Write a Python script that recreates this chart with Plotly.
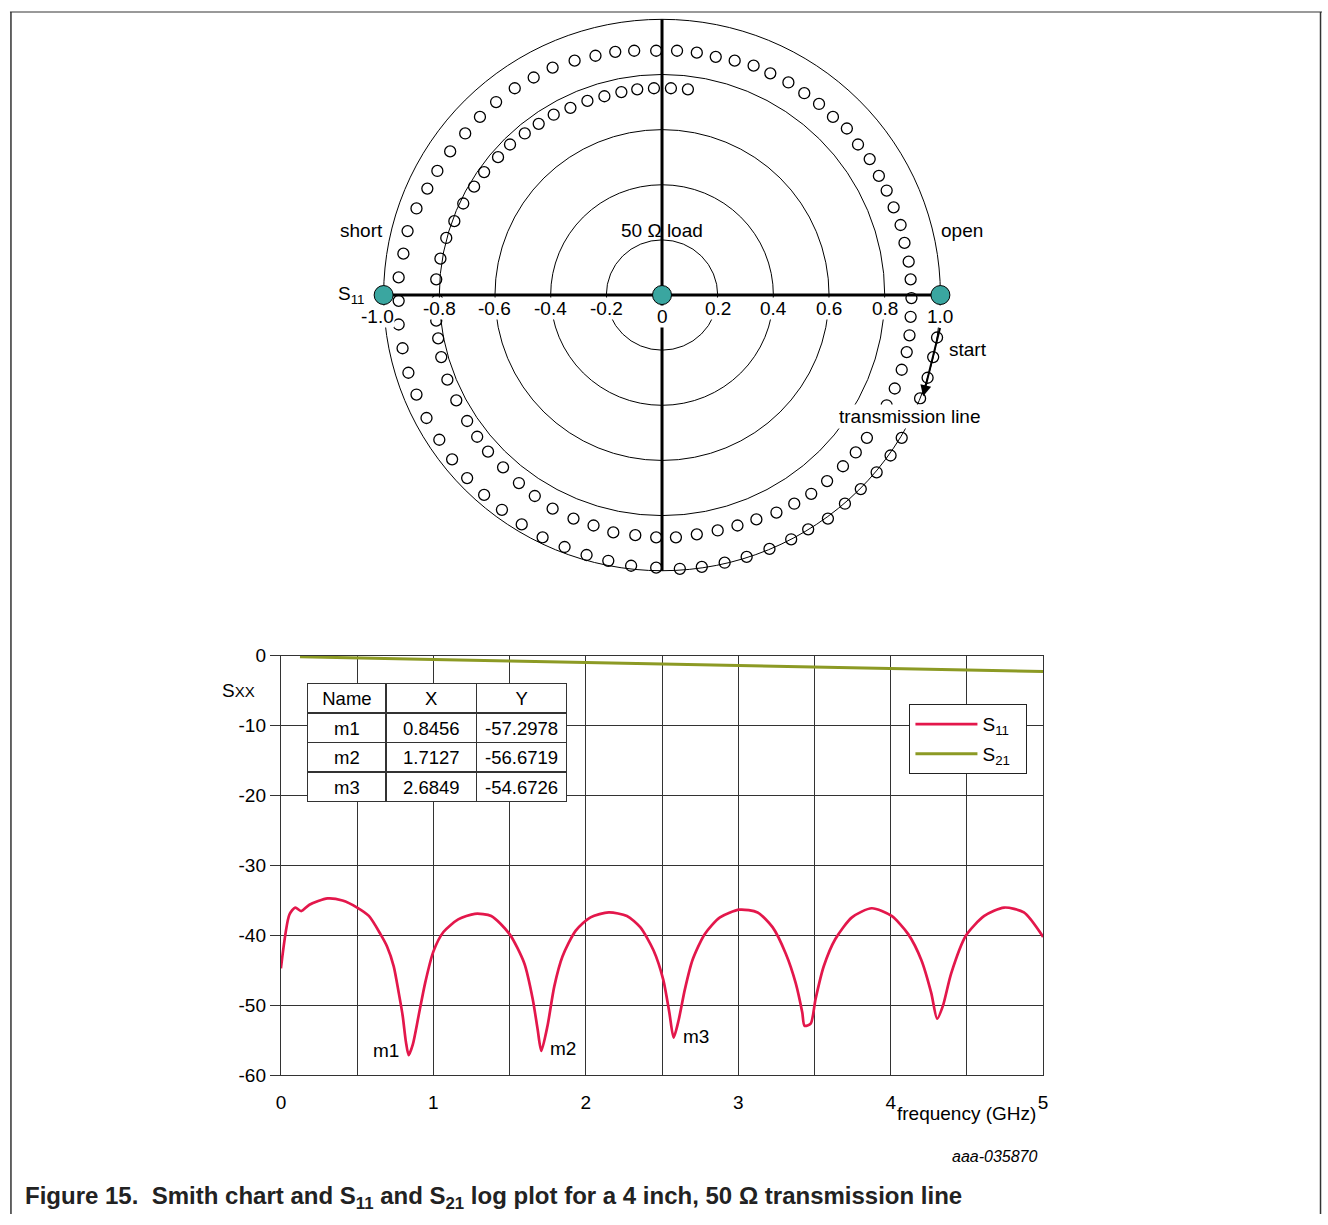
import plotly.graph_objects as go

# ---------------- Smith chart data (S11 reflection coefficient) ----------------
s11_re = [1.000, 0.997, 0.988, 0.974, 0.954, 0.927, 0.895, 0.861, 0.821, 0.771,
          0.714, 0.657, 0.596, 0.525, 0.464, 0.386, 0.304, 0.225, 0.143, 0.064,
          -0.021, -0.111, -0.193, -0.271, -0.350, -0.429, -0.504, -0.575, -0.639, -0.700,
          -0.754, -0.800, -0.846, -0.882, -0.911, -0.932, -0.946, -0.946, -0.946, -0.929,
          -0.914, -0.882, -0.843, -0.807, -0.761, -0.707, -0.654, -0.596, -0.529, -0.461,
          -0.393, -0.314, -0.239, -0.168, -0.100, -0.021, 0.054, 0.125, 0.193, 0.261,
          0.329, 0.389, 0.454, 0.511, 0.564, 0.614, 0.664, 0.704, 0.746, 0.779,
          0.807, 0.832, 0.857, 0.871, 0.886, 0.893, 0.896, 0.893, 0.889, 0.879,
          0.861, 0.836, 0.807, 0.771, 0.736, 0.696, 0.650, 0.593, 0.536, 0.475,
          0.411, 0.339, 0.271, 0.200, 0.125, 0.050, -0.021, -0.096, -0.175, -0.246,
          -0.318, -0.393, -0.457, -0.514, -0.571, -0.625, -0.664, -0.700, -0.739, -0.771,
          -0.793, -0.804, -0.811, -0.807, -0.811, -0.796, -0.775, -0.746, -0.714, -0.675,
          -0.639, -0.589, -0.546, -0.493, -0.443, -0.389, -0.329, -0.268, -0.207, -0.146,
          -0.089, -0.029, 0.032, 0.093]
s11_im = [0.000, -0.075, -0.154, -0.225, -0.300, -0.375, -0.446, -0.518, -0.582, -0.643,
          -0.704, -0.757, -0.811, -0.850, -0.886, -0.921, -0.950, -0.971, -0.986, -0.993,
          -0.989, -0.982, -0.964, -0.943, -0.914, -0.879, -0.832, -0.779, -0.725, -0.664,
          -0.596, -0.525, -0.446, -0.361, -0.282, -0.193, -0.107, -0.021, 0.064, 0.150,
          0.232, 0.314, 0.386, 0.450, 0.521, 0.586, 0.646, 0.700, 0.750, 0.789,
          0.825, 0.850, 0.868, 0.882, 0.886, 0.886, 0.886, 0.879, 0.864, 0.850,
          0.832, 0.804, 0.771, 0.732, 0.693, 0.646, 0.604, 0.546, 0.493, 0.432,
          0.379, 0.318, 0.254, 0.189, 0.121, 0.057, -0.011, -0.079, -0.146, -0.207,
          -0.271, -0.339, -0.400, -0.457, -0.518, -0.571, -0.621, -0.675, -0.721, -0.757,
          -0.789, -0.814, -0.836, -0.854, -0.868, -0.879, -0.879, -0.871, -0.861, -0.836,
          -0.811, -0.775, -0.729, -0.682, -0.625, -0.568, -0.514, -0.457, -0.382, -0.307,
          -0.225, -0.157, -0.093, -0.018, 0.057, 0.132, 0.207, 0.268, 0.332, 0.393,
          0.446, 0.500, 0.546, 0.586, 0.621, 0.654, 0.679, 0.704, 0.721, 0.736,
          0.746, 0.750, 0.750, 0.746]

smith_rings = [0.2, 0.4, 0.6, 0.8, 1.0]
smith_tick_vals = [-1.0, -0.8, -0.6, -0.4, -0.2, 0.0, 0.2, 0.4, 0.6, 0.8, 1.0]
smith_tick_text = ["-1.0", "-0.8", "-0.6", "-0.4", "-0.2", "0", "0.2", "0.4", "0.6", "0.8", "1.0"]
ref_re = [-1.0, 0.0, 1.0]   # short, 50 ohm load, open
ref_im = [0.0, 0.0, 0.0]

# ---------------- Log plot data ----------------
freq_s11 = [0.0, 0.056, 0.094, 0.133, 0.187, 0.306, 0.404, 0.5, 0.577, 0.653,
            0.697, 0.740, 0.773, 0.799, 0.820, 0.838, 0.865, 0.903, 0.946, 1.0,
            1.066, 1.163, 1.272, 1.380, 1.50, 1.597, 1.652, 1.684, 1.708, 1.749,
            1.793, 1.847, 1.934, 2.031, 2.151, 2.270, 2.357, 2.444, 2.508, 2.548,
            2.576, 2.610, 2.650, 2.700, 2.780, 2.880, 3.008, 3.127, 3.225, 3.312,
            3.377, 3.420, 3.435, 3.475, 3.507, 3.561, 3.637, 3.746, 3.876, 4.006,
            4.115, 4.201, 4.266, 4.305, 4.342, 4.397, 4.494, 4.614, 4.744, 4.874, 5.0]
s11_db = [-44.7, -37.0, -36.0, -36.5, -35.6, -34.7, -35.0, -36.0, -37.2, -39.8,
          -41.6, -44.4, -48.2, -51.5, -55.2, -57.1, -55.6, -51.5, -46.8, -42.3,
          -39.5, -37.7, -36.9, -37.2, -39.8, -44.0, -49.1, -53.4, -56.5, -52.9,
          -47.3, -43.0, -39.3, -37.4, -36.7, -37.2, -38.8, -42.1, -46.3, -51.0,
          -54.6, -52.0, -47.7, -43.5, -39.8, -37.4, -36.3, -36.7, -38.8, -42.6,
          -46.8, -51.0, -52.9, -52.6, -49.1, -44.4, -40.5, -37.4, -36.1, -37.2,
          -39.8, -43.5, -48.2, -51.9, -50.1, -45.4, -40.0, -37.2, -36.0, -36.7, -40.2]
freq_s21 = [0.125, 0.5, 1.0, 1.5, 2.0, 2.5, 3.0, 3.5, 4.0, 4.5, 5.0]
s21_db = [-0.15, -0.35, -0.55, -0.75, -0.95, -1.2, -1.45, -1.65, -1.85, -2.05, -2.25]

x_tick_vals = [0, 1, 2, 3, 4, 5]
x_tick_text = ["0", "1", "2", "3", "4", "5"]
x_minor_grid = [0.5, 1.5, 2.5, 3.5, 4.5]
y_tick_vals = [0, -10, -20, -30, -40, -50, -60]
y_tick_text = ["0", "-10", "-20", "-30", "-40", "-50", "-60"]

marker_names = ["m1", "m2", "m3"]
marker_x = [0.8456, 1.7127, 2.6849]
marker_y = [-57.2978, -56.6719, -54.6726]

FONT = "Liberation Sans, Arial, Helvetica, sans-serif"
W, H = 1328, 1225

def px(v):
    return v / W

def py(v):
    return 1 - v / H

fig = go.Figure()

# Smith chart S11 trace
fig.add_trace(go.Scatter(
    x=s11_re, y=s11_im, xaxis="x2", yaxis="y2", mode="markers",
    marker=dict(symbol="circle-open", size=11, color="black", line=dict(width=1.3)),
    showlegend=False, hoverinfo="skip"))
# reference points
fig.add_trace(go.Scatter(
    x=ref_re, y=ref_im, xaxis="x2", yaxis="y2", mode="markers",
    marker=dict(symbol="circle", size=19, color="#3aa6a0", line=dict(width=1, color="black")),
    showlegend=False, hoverinfo="skip", cliponaxis=False))

# Log plot traces
fig.add_trace(go.Scatter(
    x=freq_s11, y=s11_db, mode="lines", name="S<sub>11</sub>\u00a0\u00a0", legendgroup="a",
    line=dict(color="#e3174b", width=2.7, shape="spline", smoothing=0.7)))
fig.add_trace(go.Scatter(
    x=freq_s21, y=s21_db, mode="lines", name="S<sub>21</sub>\u00a0\u00a0", legendgroup="b",
    line=dict(color="#8c9a24", width=3)))

# Marker table
fig.add_trace(go.Table(
    domain=dict(x=[px(305), px(566)], y=[py(812), py(685)]),
    columnwidth=[79, 91, 91],
    header=dict(values=["Name", "X", "Y"], height=29.5, align="center",
                fill_color="white", line=dict(color="#333", width=1.5),
                font=dict(family=FONT, size=18.5, color="black")),
    cells=dict(values=[marker_names, [f"{v:.4f}" for v in marker_x], [f"{v:.4f}" for v in marker_y]],
               height=29.5, align="center", fill_color="white",
               line=dict(color="#333", width=1.5),
               font=dict(family=FONT, size=18.5, color="black"))))

shapes = []
# Smith rings
for r in smith_rings:
    shapes.append(dict(type="circle", xref="x2", yref="y2", x0=-r, x1=r, y0=-r, y1=r,
                       line=dict(color="black", width=1), layer="below"))
# Smith axes
shapes.append(dict(type="line", xref="x2", yref="y2", x0=-1, x1=1, y0=0, y1=0,
                   line=dict(color="black", width=3), layer="below"))
shapes.append(dict(type="line", xref="x2", yref="y2", x0=0, x1=0, y0=-1, y1=1,
                   line=dict(color="black", width=3), layer="below"))
# frame of the figure
shapes.append(dict(type="line", xref="paper", yref="paper", x0=px(5), x1=px(1327), y0=py(2), y1=py(2),
                   line=dict(color="#999", width=2)))
shapes.append(dict(type="line", xref="paper", yref="paper", x0=px(6), x1=px(6), y0=0, y1=py(2),
                   line=dict(color="#333", width=1.5)))
shapes.append(dict(type="line", xref="paper", yref="paper", x0=px(1325.5), x1=px(1325.5), y0=0, y1=py(2),
                   line=dict(color="#333", width=1.5)))

ann = []
lab = dict(family=FONT, size=19, color="black")
C = dict(xanchor="center", yanchor="middle", showarrow=False)
# Smith tick labels
for v, t in zip(smith_tick_vals, smith_tick_text):
    yy = -0.078 if abs(v) in (0.0, 1.0) else -0.05
    xx = v - 0.022 if v == -1.0 else v
    ann.append(dict(x=xx, y=yy, xref="x2", yref="y2", text=t, font=lab,
                    bgcolor="white", borderpad=0, **C))
ann += [
    dict(x=-1.08, y=0.235, xref="x2", yref="y2", text="short", font=lab, **C),
    dict(x=1.077, y=0.235, xref="x2", yref="y2", text="open", font=lab, **C),
    dict(x=0.0, y=0.235, xref="x2", yref="y2", text="50 Ω load", font=lab, **C),
    dict(x=-1.116, y=0.0, xref="x2", yref="y2", text="S<sub>11</sub>", font=lab, **C),
    dict(x=1.098, y=-0.196, xref="x2", yref="y2", text="start", font=lab, **C),
    dict(x=0.891, y=-0.439, xref="x2", yref="y2", text="transmission line",
         font=lab, bgcolor="white", borderpad=1, **C),
    dict(x=0.0, y=-1.077, xref="x2", yref="y2", text="freq (15.00 MHz to 2.000 GHz)",
         font=lab, **C),
    dict(x=0.938, y=-0.367, xref="x2", yref="y2", ax=1.0, ay=-0.114, axref="x2", ayref="y2",
         text="", showarrow=True, arrowhead=2, arrowsize=1.1, arrowwidth=2, arrowcolor="black"),
    # log plot labels
    dict(x=0.79, y=-56.5, xref="x", yref="y", text="m1", xanchor="right", yanchor="middle",
         showarrow=False, font=lab),
    dict(x=1.751, y=-56.2, xref="x", yref="y", text="m2", xanchor="left", yanchor="middle",
         showarrow=False, font=lab),
    dict(x=2.624, y=-54.4, xref="x", yref="y", text="m3", xanchor="left", yanchor="middle",
         showarrow=False, font=lab),
    dict(x=px(235), y=py(692), xref="paper", yref="paper",
         text="S<span style='font-size:15px'>XX</span>", font=lab, **C),
    dict(x=px(969), y=py(1123), xref="paper", yref="paper", text="frequency (GHz)",
         font=lab, **C),
    dict(x=px(1043), y=py(1166), xref="paper", yref="paper", text="<i>aaa-035870</i>",
         xanchor="right", yanchor="middle", showarrow=False,
         font=dict(family=FONT, size=16, color="black")),
    dict(x=px(18), y=py(1208), xref="paper", yref="paper",
         text="<b>Figure 15.\u00a0 Smith chart and S<sub>11</sub> and S<sub>21</sub> log plot for a 4 inch, 50 Ω transmission line</b>",
         xanchor="left", yanchor="middle", showarrow=False,
         font=dict(family=FONT, size=24, color="#222")),
]

unit = 280.5
cx, cy = 662, 290
xr, yr = 1.2, 1.02

fig.update_layout(
    width=W, height=H, margin=dict(l=0, r=0, t=0, b=0),
    paper_bgcolor="white", plot_bgcolor="white",
    font=dict(family=FONT, size=19, color="black"),
    xaxis=dict(domain=[px(278), px(1046)], range=[0, 5], anchor="y",
               tickmode="array", tickvals=x_tick_vals, ticktext=x_tick_text,
               showgrid=True, gridcolor="#333", gridwidth=1, zeroline=False,
               showline=True, mirror=True, linecolor="#333", linewidth=1.3,
               ticks="", ticklabelstandoff=10, tickfont=dict(size=19),
               minor=dict(tickmode="array", tickvals=x_minor_grid, showgrid=True,
                          gridcolor="#333", gridwidth=1, ticks="")),
    yaxis=dict(domain=[py(1084), py(657)], range=[-60, 0], anchor="x",
               tickmode="array", tickvals=y_tick_vals, ticktext=y_tick_text,
               showgrid=True, gridcolor="#333", gridwidth=1, zeroline=False,
               showline=True, mirror=True, linecolor="#333", linewidth=1.3,
               ticks="outside", ticklen=10, tickcolor="#333", tickwidth=1.3,
               tickfont=dict(size=19)),
    xaxis2=dict(domain=[px(cx - xr * unit), px(cx + xr * unit)], range=[-xr, xr],
                anchor="y2", visible=False),
    yaxis2=dict(domain=[py(cy + yr * unit), py(cy - yr * unit)], range=[-yr, yr],
                anchor="x2", visible=False),
    legend=dict(x=px(911), y=py(706), xanchor="left", yanchor="top",
                bgcolor="white", bordercolor="#222", borderwidth=1.3,
                font=dict(family=FONT, size=19), traceorder="grouped", tracegroupgap=2,
                itemwidth=62),
    shapes=shapes, annotations=ann,
)

fig.write_html("out.html")
